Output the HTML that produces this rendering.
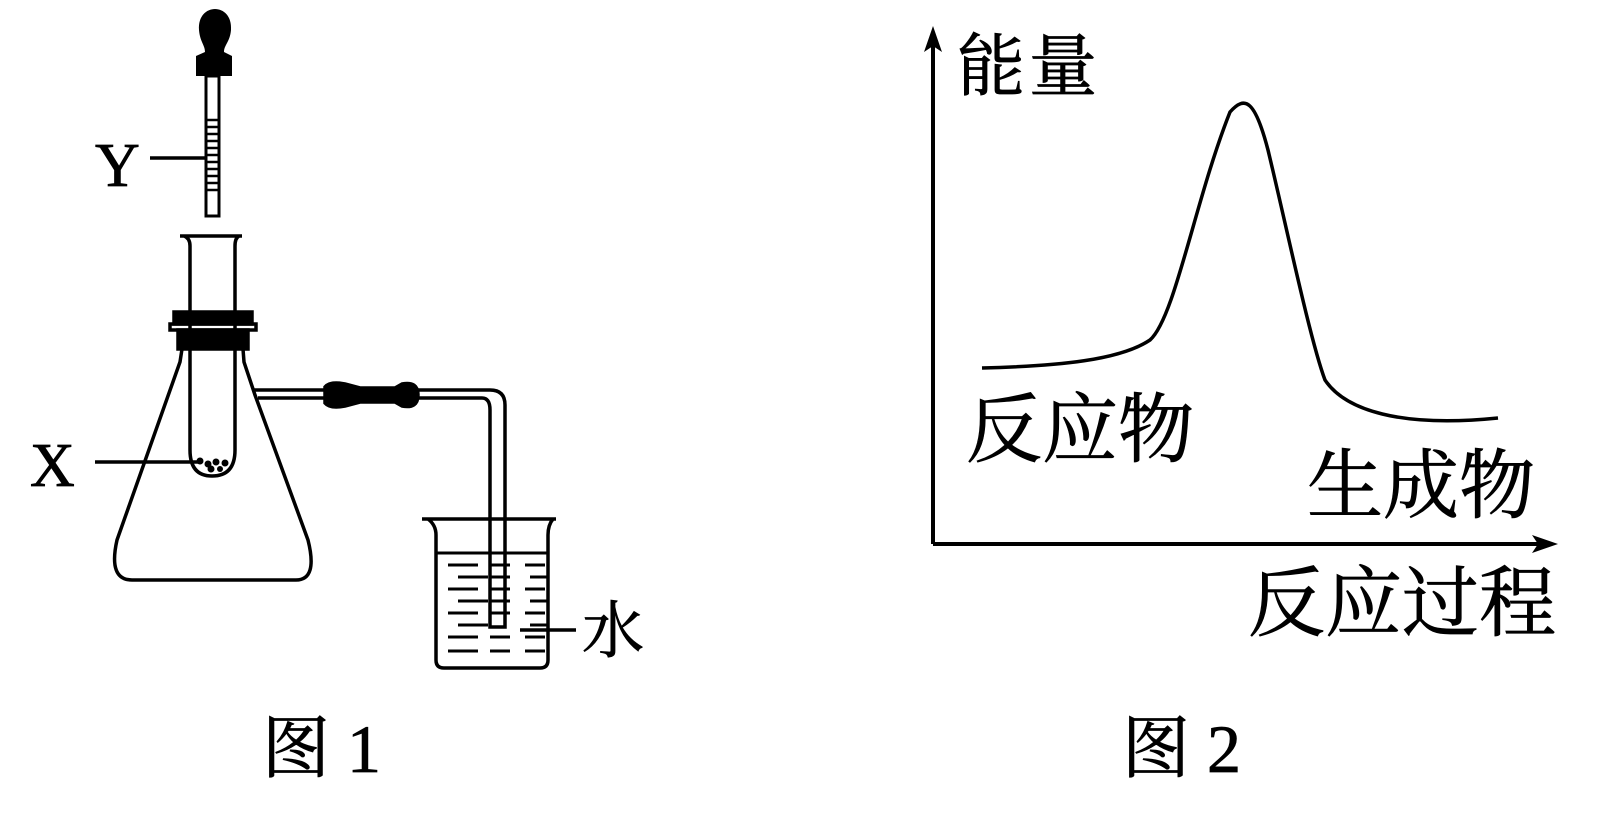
<!DOCTYPE html>
<html><head><meta charset="utf-8"><style>
html,body{margin:0;padding:0;background:#fff;}
svg{display:block;}
text{font-family:"Liberation Serif","Noto Serif CJK SC",serif;fill:#000;stroke:#000;stroke-width:0.8;}
</style></head><body>
<svg width="1598" height="819" viewBox="0 0 1598 819" xmlns="http://www.w3.org/2000/svg">
<g fill="none" stroke="#000" stroke-width="3.5">
<!-- dropper -->
<path d="M199 30 C197 2 233 2 231 30 C230 42 224 45 224 52 L232 56 L232 76 L196 76 L196 56 L205 52 C205 45 200 42 199 30Z" fill="#000" stroke="none"/>
<rect x="206" y="76" width="13" height="140" stroke-width="3"/>
<g stroke-width="2.5">
<line x1="206" y1="120" x2="219" y2="120"/><line x1="206" y1="127" x2="219" y2="127"/><line x1="206" y1="134" x2="219" y2="134"/><line x1="206" y1="141" x2="219" y2="141"/><line x1="206" y1="148" x2="219" y2="148"/><line x1="206" y1="155" x2="219" y2="155"/><line x1="206" y1="162" x2="219" y2="162"/><line x1="206" y1="169" x2="219" y2="169"/><line x1="206" y1="176" x2="219" y2="176"/><line x1="206" y1="183" x2="219" y2="183"/><line x1="206" y1="190" x2="219" y2="190"/>
</g>
<line x1="150" y1="158" x2="206" y2="158"/>
<!-- test tube -->
<path d="M180 236 L242 236 M184 236 Q190 238 190 246 L190 450 Q190 476 212 476 Q235 476 235 450 L235 246 Q235 238 239 236"/>
<!-- stopper -->
<rect x="174" y="312" width="78" height="12" fill="#000"/>
<rect x="170" y="324" width="86" height="6"/>
<rect x="178" y="330" width="70" height="19" fill="#000"/>
<!-- flask -->
<path d="M182 349 L180 362 L117 540 Q108 580 132 580 L296 580 Q318 580 308 540 L255 395 L244 362 L243 349"/>
<!-- side tube -->
<path d="M253 390 L490 390 Q505 390 505 405 L505 627 L490 627 L490 410 Q490 398 482 398 L258 398"/>
<path d="M325 387 Q330 381 345 384 L360 388 L395 388 L402 384 Q418 381 418 395 Q418 409 402 406 L395 402 L360 402 L345 406 Q330 409 325 403 Z" fill="#000"/>
<!-- beaker -->
<path d="M422 519 L556 519 M428 519 Q436 525 436 535 L436 660 Q436 668 444 668 L540 668 Q548 668 548 660 L548 535 Q548 525 553 519"/>
<line x1="436" y1="553" x2="548" y2="553" stroke-width="3"/>
<g stroke-width="3">
<path d="M448 565h30M490 565h20M525 565h20M458 577h30M490 577h20M530 577h18M448 589h30M490 589h20M525 589h20M458 601h30M490 601h20M530 601h18M448 613h30M490 613h20M525 613h20M458 625h30M530 625h18M448 637h30M490 637h20M525 637h20M448 651h30M490 651h20M525 651h20"/>
</g>
<line x1="520" y1="630" x2="576" y2="630"/>
<!-- X line -->
<line x1="95" y1="462" x2="200" y2="462"/>
</g>
<g fill="#000"><circle cx="200" cy="461" r="3.5"/><circle cx="208" cy="464" r="3.5"/><circle cx="216" cy="462" r="3.5"/><circle cx="225" cy="463" r="3.5"/><circle cx="211" cy="469" r="3.5"/><circle cx="220" cy="469" r="3"/></g>
<text x="95" y="186" font-size="62">Y</text>
<text x="30" y="486" font-size="62">X</text>
<text x="582" y="652" font-size="62">水</text>
<text x="262" y="772" font-size="68">图 1</text>
<!-- graph -->
<g fill="none" stroke="#000" stroke-width="4">
<line x1="933" y1="38" x2="933" y2="544"/>
<line x1="933" y1="544" x2="1545" y2="544"/>
<path d="M982 368 C1060 366 1120 360 1150 340 C1175 318 1195 200 1230 112 C1245 95 1255 100 1268 150 C1285 220 1310 340 1325 380 C1345 410 1400 428 1498 418" stroke-width="3.5"/>
</g>
<path d="M933 26 L924 52 L933 46 L942 52 Z"/>
<path d="M1558 544 L1532 535 L1538 544 L1532 553 Z"/>
<text x="957" y="90" font-size="68" letter-spacing="4">能量</text>
<text x="966" y="456" font-size="76">反应物</text>
<text x="1307" y="512" font-size="76">生成物</text>
<text x="1248" y="630" font-size="77">反应过程</text>
<text x="1122" y="772" font-size="68">图 2</text>
</svg>
</body></html>
